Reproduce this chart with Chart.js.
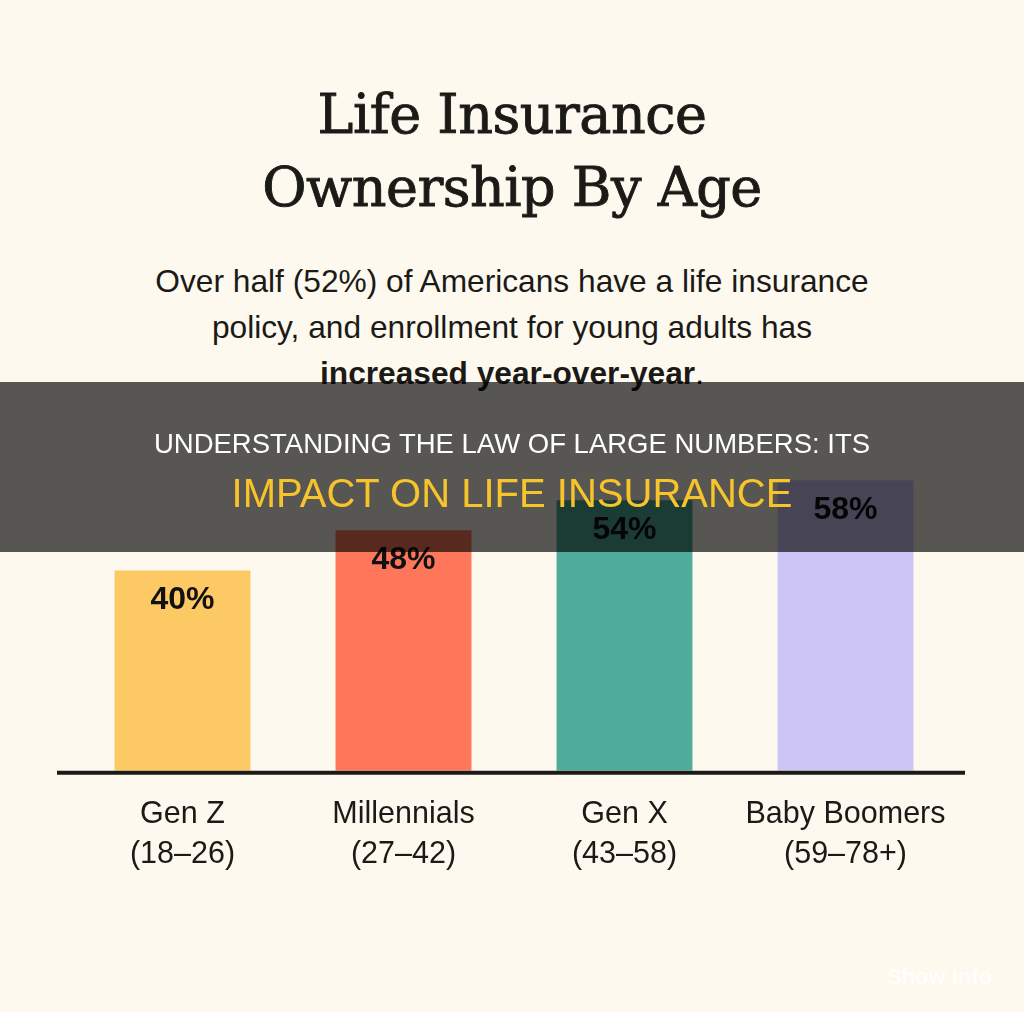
<!DOCTYPE html>
<html lang="en">
<head>
<meta charset="UTF-8">
<title>Life Insurance Ownership By Age</title>
<script src="https://cdn.jsdelivr.net/npm/chart.js"></script>
<style>
  html, body { margin: 0; padding: 0; }
  body { width: 1024px; height: 1012px; background: #FDF9EF; position: relative; overflow: hidden; font-family: "Liberation Sans", Arial, sans-serif; color: #1b1a17; }
  #chart { position: absolute; left: 0; top: 0; }
  .title { position: absolute; left: 0; width: 1024px; top: 78px; text-align: center; font-family: "DejaVu Serif", serif; font-size: 54px; line-height: 73px; color: #1b1a17; letter-spacing: -0.5px; -webkit-text-stroke: 0.9px #1b1a17; }
  .sub { position: absolute; left: 0; width: 1024px; top: 258px; text-align: center; font-size: 31.7px; line-height: 46px; color: #1b1a17; }
  .sub b { font-weight: 700; }
  .banner { position: absolute; left: 0; top: 382px; width: 1024px; height: 170px; background: rgba(0,0,0,0.655); z-index: 2; text-align: center; }
  .banner .l1 { position: absolute; left: 0; width: 100%; top: 45px; font-size: 27.5px; line-height: 34px; color: #fff; }
  .banner .l2 { position: absolute; left: 0; width: 100%; top: 88px; font-size: 40px; line-height: 46px; color: #F7C42A; }
  .mark { position: absolute; right: 32px; top: 964px; font-size: 22px; font-weight: 700; color: rgba(255,255,255,0.75); }
</style>
</head>
<body>
  <div class="title">Life Insurance<br>Ownership By Age</div>
  <div class="sub">Over half (52%) of Americans have a life insurance<br>policy, and enrollment for young adults has<br><b>increased year-over-year</b>.</div>
  <canvas id="chart" width="1024" height="1012"></canvas>
  <div class="banner">
    <div class="l1">UNDERSTANDING THE LAW OF LARGE NUMBERS: ITS</div>
    <div class="l2">IMPACT ON LIFE INSURANCE</div>
  </div>
  <div class="mark">Show Info</div>

<script>
const generations = ['Gen Z', 'Millennials', 'Gen X', 'Baby Boomers'];
const ageRanges = ['(18–26)', '(27–42)', '(43–58)', '(59–78+)'];
const ownership = [40, 48, 54, 58];
const barColors = ['#FDC964', '#FF775A', '#4FAC9A', '#CDC5F5'];

// value labels inside the top of each bar
const valueLabels = {
  id: 'valueLabels',
  afterDatasetsDraw(chart) {
    const ctx = chart.ctx;
    const meta = chart.getDatasetMeta(0);
    ctx.save();
    ctx.font = 'bold 32px "Liberation Sans", Arial, sans-serif';
    ctx.fillStyle = '#111';
    ctx.textAlign = 'center';
    ctx.textBaseline = 'middle';
    meta.data.forEach((bar, i) => {
      ctx.fillText(ownership[i] + '%', bar.x, bar.y + 30);
    });
    ctx.restore();
  }
};

// thick baseline that runs past the chart area
const baseline = {
  id: 'baseline',
  afterDatasetsDraw(chart) {
    const ctx = chart.ctx;
    const y = chart.scales.y.getPixelForValue(0) + 2;
    ctx.save();
    ctx.strokeStyle = '#1c1a17';
    ctx.lineWidth = 4;
    ctx.beginPath();
    ctx.moveTo(57, y);
    ctx.lineTo(965, y);
    ctx.stroke();
    ctx.restore();
  }
};

new Chart(document.getElementById('chart'), {
  type: 'bar',
  data: {
    labels: generations.map((g, i) => [g, ageRanges[i]]),
    datasets: [{
      data: ownership,
      backgroundColor: barColors,
      borderWidth: 0,
      categoryPercentage: 1,
      barPercentage: 0.615
    }]
  },
  options: {
    responsive: false,
    animation: false,
    layout: { padding: { top: 270, left: 72, right: 68, bottom: 114 } },
    plugins: { legend: { display: false }, tooltip: { enabled: false } },
    scales: {
      y: { display: false, min: 0, max: 100 },
      x: {
        grid: { display: false, drawTicks: false },
        border: { display: false },
        ticks: {
          color: '#1b1a17',
          padding: 24,
          font: { family: '"Liberation Sans", Arial, sans-serif', size: 30.5, lineHeight: 1.3 }
        }
      }
    }
  },
  plugins: [valueLabels, baseline]
});
</script>
</body>
</html>
